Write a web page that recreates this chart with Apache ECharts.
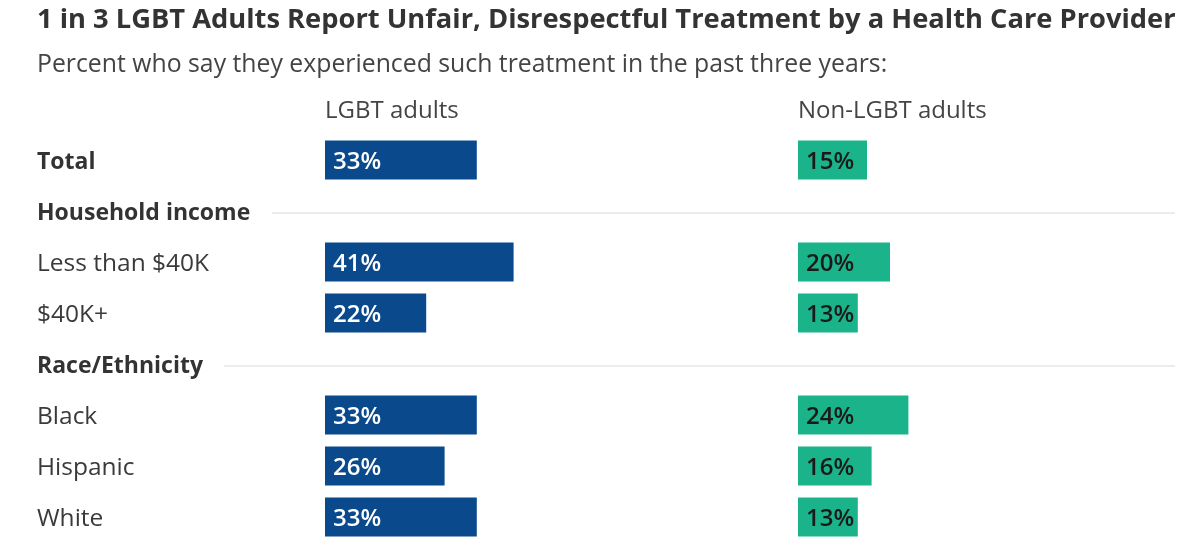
<!DOCTYPE html>
<html><head><meta charset="utf-8">
<script src="https://cdn.jsdelivr.net/npm/echarts@6/dist/echarts.min.js"></script>
<style>html,body{margin:0;padding:0;background:#fff}#c{width:1200px;height:552px}</style>
</head><body><div id="c"></div>
<script>
const titleText = '1 in 3 LGBT Adults Report Unfair, Disrespectful Treatment by a Health Care Provider';
const subtitleText = 'Percent who say they experienced such treatment in the past three years:';
const seriesNames = ['LGBT adults', 'Non-LGBT adults'];
const categories = ['Total', 'Household income', 'Less than $40K', '$40K+', 'Race/Ethnicity', 'Black', 'Hispanic', 'White'];
const rowTypes = ['bold', 'header', 'normal', 'normal', 'header', 'normal', 'normal', 'normal'];
const lgbtValues = [33, null, 41, 22, null, 33, 26, 33];
const nonLgbtValues = [15, null, 20, 13, null, 24, 16, 13];

const FONT = 'Open Sans';
const FS = 24;
const chart = echarts.init(document.getElementById('c'));
const gridTop = 134.5, gridBottom = 9.5;
const xMax = 80;

function yAxisCfg(idx, showLabels) {
  return {
    type: 'category', gridIndex: idx, data: categories, inverse: true,
    axisLine: {show: false}, axisTick: {show: false}, splitLine: {show: false},
    axisLabel: showLabels ? {
      show: true, align: 'left', margin: 288, fontFamily: FONT, fontSize: FS, color: '#333',
      formatter: (v, i) => rowTypes[i] === 'normal' ? '{n|' + v + '}' : '{b|' + v + '}',
      rich: {
        n: {fontFamily: FONT, fontSize: 24.5, color: '#3a3a3a', padding: [4, 0, 0, 0]},
        b: {fontFamily: FONT, fontSize: 23, fontWeight: 'bold', color: '#333', padding: [4, 0, 0, 0]}
      }
    } : {show: false}
  };
}
function xAxisCfg(idx) {
  return {type: 'value', gridIndex: idx, min: 0, max: xMax, show: false, splitLine: {show: false}};
}
function barSeries(idx, name, data, color, textColor) {
  return {
    type: 'bar', name: name, xAxisIndex: idx, yAxisIndex: idx, data: data,
    barWidth: 39, silent: true,
    itemStyle: {color: color},
    label: {
      show: true, position: 'insideLeft', distance: 8, offset: [0, 2],
      formatter: p => p.value == null ? '' : p.value + '%',
      fontFamily: FONT, fontSize: 24, fontWeight: 600, color: textColor
    }
  };
}

chart.setOption({
  animation: false,
  title: [
    {text: titleText, left: 32, top: 2, textStyle: {fontFamily: FONT, fontSize: 27.3, fontWeight: 'bold', color: '#333'}},
    {text: subtitleText, left: 32, top: 47, textStyle: {fontFamily: FONT, fontSize: 24.8, fontWeight: 'normal', color: '#444'}},
    {text: seriesNames[0], left: 320, top: 94, textStyle: {fontFamily: FONT, fontSize: FS, fontWeight: 'normal', color: '#444'}},
    {text: seriesNames[1], left: 793, top: 94, textStyle: {fontFamily: FONT, fontSize: FS, fontWeight: 'normal', color: '#444'}}
  ],
  grid: [
    {left: 325, width: 368, top: gridTop, bottom: gridBottom},
    {left: 798, width: 368, top: gridTop, bottom: gridBottom}
  ],
  xAxis: [xAxisCfg(0), xAxisCfg(1)],
  yAxis: [yAxisCfg(0, true), yAxisCfg(1, false)],
  series: [
    barSeries(0, seriesNames[0], lgbtValues, '#0a4a8c', '#ffffff'),
    barSeries(1, seriesNames[1], nonLgbtValues, '#1ab38a', '#1a1a1a')
  ]
});

// separator lines after the header rows
const lineStarts = {'Household income': 272, 'Race/Ethnicity': 224};
const graphics = [];
categories.forEach((c, i) => {
  if (rowTypes[i] !== 'header') return;
  const y = chart.convertToPixel({yAxisIndex: 0}, c) + 2;
  graphics.push({type: 'line', shape: {x1: lineStarts[c], y1: y, x2: 1175, y2: y},
    style: {stroke: '#d9d9d9', lineWidth: 1.2}, silent: true});
});
chart.setOption({graphic: graphics});
</script></body></html>
